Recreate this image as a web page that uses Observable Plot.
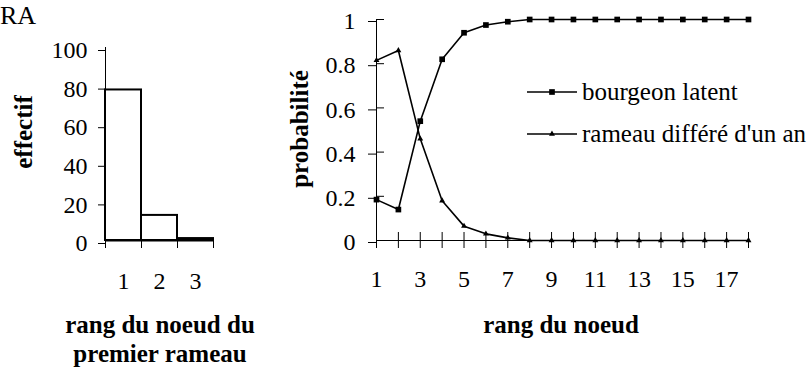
<!DOCTYPE html>
<html>
<head>
<meta charset="utf-8">
<script src="https://cdn.jsdelivr.net/npm/d3@7"></script>
<script src="https://cdn.jsdelivr.net/npm/@observablehq/plot@0.6"></script>
<style>
  html, body { margin: 0; padding: 0; background: white; }
  #wrap { position: relative; width: 812px; height: 375px; overflow: hidden; background: white; font-family: "Liberation Serif", "Times New Roman", serif; }
  #left, #right { position: absolute; top: 0; }
  #left { left: 0; }
  #right { left: 290px; }
  #overlay { position: absolute; left: 0; top: 0; }
</style>
</head>
<body>
<div id="wrap">
  <div id="left"></div>
  <div id="right"></div>
  <svg id="overlay" width="812" height="375"></svg>
</div>
<script>
// ---- data: left histogram ----
const firstRanks = [1, 2, 3];
const firstCounts = [78, 13, 1];
const countTicks = [0, 20, 40, 60, 80, 100];

// ---- data: right probabilities ----
const nodeRanks = [1,2,3,4,5,6,7,8,9,10,11,12,13,14,15,16,17,18];
const bourgeonLatent = [0.185, 0.14, 0.54, 0.82, 0.94, 0.975, 0.99, 1, 1, 1, 1, 1, 1, 1, 1, 1, 1, 1];
const rameauDiffere = [0.815, 0.86, 0.46, 0.18, 0.065, 0.03, 0.012, 0, 0, 0, 0, 0, 0, 0, 0, 0, 0, 0];
const probTicks = [0, 0.2, 0.4, 0.6, 0.8, 1];
const nodeLabels = [1, 3, 5, 7, 9, 11, 13, 15, 17];

const seriesNames = ["bourgeon latent", "rameau différé d'un an"];

const font = "Liberation Serif";
const baseStyle = {fontFamily: font, fontSize: "24px", color: "black", background: "white", overflow: "visible"};

// histogram table
const bins = firstRanks.map((r, i) => ({x1: r - 0.5, x2: r + 0.5, count: firstCounts[i]}));
const binEdges = [0.5, ...firstRanks.map(r => r + 0.5)];

const left = Plot.plot({
  width: 260, height: 300,
  marginLeft: 105, marginRight: 47, marginTop: 47, marginBottom: 60,
  style: baseStyle,
  x: {domain: [0.5, 3.5], axis: null},
  y: {domain: [0, 100], axis: null},
  marks: [
    Plot.rectY(bins, {x1: "x1", x2: "x2", y: "count", fill: "white", stroke: "black", strokeWidth: 2}),
    Plot.ruleX([0.5], {stroke: "black", strokeWidth: 1}),
    Plot.ruleY([0], {stroke: "black", strokeWidth: 2}),
    Plot.axisY({ticks: countTicks, tickSize: 7, tickPadding: 11, dy: 3, tickFormat: d => String(d), label: null}),
    Plot.axisX({ticks: binEdges, tickSize: 8, tickFormat: () => "", label: null}),
    Plot.axisX({ticks: firstRanks, tickSize: 0, tickPadding: 31, tickFormat: d => String(d), label: null})
  ]
});
document.getElementById("left").appendChild(left);

// line table
const rows = [];
nodeRanks.forEach((n, i) => {
  rows.push({rank: n, p: bourgeonLatent[i], serie: seriesNames[0]});
  rows.push({rank: n, p: rameauDiffere[i], serie: seriesNames[1]});
});

const right = Plot.plot({
  width: 522, height: 300,
  marginLeft: 86, marginRight: 64, marginTop: 19, marginBottom: 60,
  style: baseStyle,
  x: {domain: [1, 18], axis: null},
  y: {domain: [0, 1], axis: null},
  symbol: {domain: seriesNames, range: ["square", "triangle"]},
  marks: [
    Plot.ruleX([1], {stroke: "black", strokeWidth: 1}),
    Plot.ruleY([0], {stroke: "black", strokeWidth: 1}),
    Plot.axisY({ticks: probTicks, tickSize: 8, tickPadding: 13, dy: 2, tickFormat: d => String(d), label: null}),
    Plot.axisY({ticks: probTicks, tickSize: 8, dx: 8, tickFormat: () => "", label: null}),
    Plot.axisX({ticks: nodeRanks, tickSize: 8, tickFormat: () => "", label: null}),
    Plot.axisX({ticks: nodeRanks, tickSize: 8, dy: -8, tickFormat: () => "", label: null}),
    Plot.axisX({ticks: nodeLabels, tickSize: 0, tickPadding: 29, tickFormat: d => String(d), label: null}),
    Plot.line(rows, {x: "rank", y: "p", z: "serie", stroke: "black", strokeWidth: 1.6}),
    Plot.dot(rows.filter(d => d.serie === seriesNames[0]), {x: "rank", y: "p", symbol: "serie", r: 3.2, fill: "black", stroke: "none"}),
    Plot.dot(rows.filter(d => d.serie === seriesNames[1]), {x: "rank", y: "p", symbol: "serie", r: 2.2, fill: "black", stroke: "none"})
  ]
});
document.getElementById("right").appendChild(right);

// titles + legend overlay
const ov = d3.select("#overlay");
ov.append("text").attr("x", 0).attr("y", 24).attr("font-family", font).attr("font-size", 26).text("RA");
ov.append("text").attr("transform", "translate(32,132) rotate(-90)").attr("text-anchor", "middle")
  .attr("font-family", font).attr("font-size", 25).attr("font-weight", "bold").text("effectif");
ov.append("text").attr("transform", "translate(308,129) rotate(-90)").attr("text-anchor", "middle")
  .attr("font-family", font).attr("font-size", 25).attr("font-weight", "bold").text("probabilité");
ov.append("text").attr("x", 160).attr("y", 333).attr("text-anchor", "middle")
  .attr("font-family", font).attr("font-size", 25).attr("font-weight", "bold").text("rang du noeud du");
ov.append("text").attr("x", 160).attr("y", 362).attr("text-anchor", "middle")
  .attr("font-family", font).attr("font-size", 25).attr("font-weight", "bold").text("premier rameau");
ov.append("text").attr("x", 561).attr("y", 333).attr("text-anchor", "middle")
  .attr("font-family", font).attr("font-size", 25).attr("font-weight", "bold").text("rang du noeud");

const legendY = [92, 134];
seriesNames.forEach((name, i) => {
  const g = ov.append("g").attr("transform", `translate(527,${legendY[i]})`);
  g.append("line").attr("x1", 0).attr("x2", 50).attr("y1", 0).attr("y2", 0).attr("stroke", "black").attr("stroke-width", 1.6);
  const sym = i === 0 ? d3.symbolSquare : d3.symbolTriangle;
  const size = i === 0 ? Math.PI * 3.2 * 3.2 : Math.PI * 2.2 * 2.2;
  g.append("path").attr("transform", "translate(25,0)").attr("d", d3.symbol(sym, size)()).attr("fill", "black");
  g.append("text").attr("x", 55).attr("y", 8).attr("font-family", font).attr("font-size", 25).text(name);
});
</script>
</body>
</html>
